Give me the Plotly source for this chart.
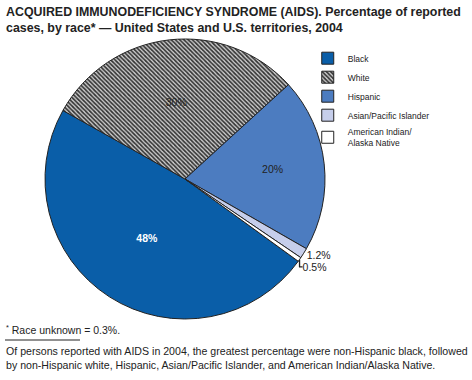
import plotly.graph_objects as go

labels = ["Black", "White", "Hispanic", "Asian/Pacific Islander", "American Indian/<br>Alaska Native"]
values = [48, 30, 20, 1.2, 0.5]
text_labels = ["<b>48%</b>", "30%", "20%", "1.2%", "0.5%"]
colors = ["#0A5EA8", "#8c8c8c", "#4C7CC0", "#C6CEEB", "#FFFFFF"]

fig = go.Figure()
fig.add_trace(go.Pie(
    labels=labels,
    values=values,
    text=text_labels,
    textinfo="text",
    sort=False,
    direction="clockwise",
    rotation=126,
    marker=dict(
        colors=colors,
        line=dict(color="#222222", width=1),
        pattern=dict(
            shape=["", "\\", "", "", ""],
            fgcolor="#333333",
            bgcolor="#cfcfcf",
            size=3,
            solidity=0.55,
        ),
    ),
    textposition=["inside", "inside", "inside", "outside", "outside"],
    insidetextorientation="horizontal",
    textfont=dict(family="Arial, Liberation Sans", size=10.5,
                  color=["white", "#222222", "#222222", "#222222", "#222222"]),
    outsidetextfont=dict(family="Arial, Liberation Sans", size=10.5, color="#222222"),
    domain=dict(x=[45/472, 325/472], y=[1-319/380, 1-39/380]),
    hoverinfo="label+value",
))

fig.update_layout(
    width=472, height=380,
    margin=dict(l=0, r=0, t=0, b=0),
    paper_bgcolor="white",
    plot_bgcolor="white",
    font=dict(family="Arial, Liberation Sans", color="#222222"),
    showlegend=True,
    legend=dict(
        x=0.652, y=0.885, xanchor="left", yanchor="top",
        font=dict(size=8.5, color="#222222"),
        bgcolor="rgba(0,0,0,0)",
        traceorder="normal",
    ),
    annotations=[
        dict(text="<b>ACQUIRED IMMUNODEFICIENCY SYNDROME (AIDS). Percentage of reported<br>cases, by race* — United States and U.S. territories, 2004</b>",
             x=4/472, y=1-3/380, xref="paper", yref="paper", xanchor="left", yanchor="top",
             align="left", showarrow=False, font=dict(size=12.4, color="#222222")),
        dict(text="<sup>*</sup> Race unknown = 0.3%.",
             x=4/472, y=1-321/380, xref="paper", yref="paper", xanchor="left", yanchor="top",
             align="left", showarrow=False, font=dict(size=10.5, color="#222222")),
        dict(text="Of persons reported with AIDS in 2004, the greatest percentage were non-Hispanic black, followed<br>by non-Hispanic white, Hispanic, Asian/Pacific Islander, and American Indian/Alaska Native.",
             x=4/472, y=1-343/380, xref="paper", yref="paper", xanchor="left", yanchor="top",
             align="left", showarrow=False, font=dict(size=10.6, color="#222222")),
    ],
    shapes=[
        dict(type="line", xref="paper", yref="paper", x0=5/472, x1=80/472,
             y0=1-340/380, y1=1-340/380, line=dict(color="#222222", width=1)),
    ],
)

fig.write_html("out.html", config={"displayModeBar": False},
               post_script="document.body.style.margin='0';")
